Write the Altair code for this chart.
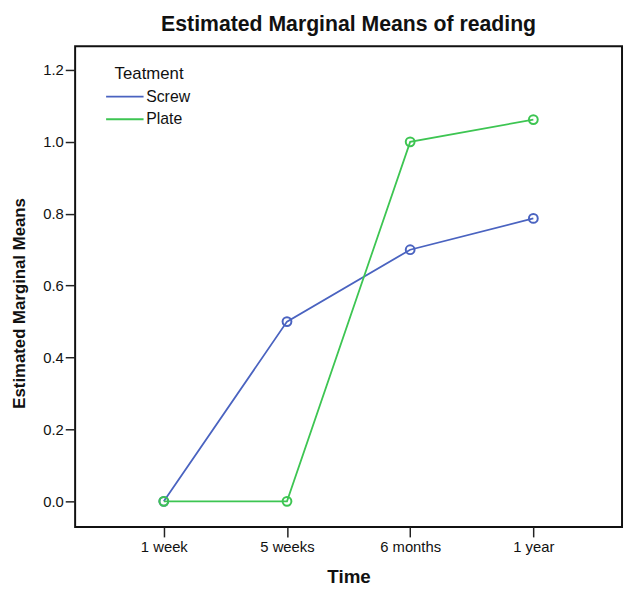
import altair as alt
import pandas as pd

times = ["1 week", "5 weeks", "6 months", "1 year"]
screw = [0.0, 0.5, 0.7, 0.787]
plate = [0.0, 0.0, 1.0, 1.062]
groups = ["Screw", "Plate"]
colors = ["#4a63c0", "#3dc552"]

rows = []
for g, vals in zip(groups, [screw, plate]):
    for i, (t, v) in enumerate(zip(times, vals)):
        rows.append({"Time": t, "mean": v, "Teatment": g, "order": i})
df = pd.DataFrame(rows)

FONT = "Liberation Sans"

x = alt.X("Time:N", sort=times,
          scale=alt.Scale(type="point", padding=0.72),
          axis=alt.Axis(title="Time", labelAngle=0, tickSize=10, tickWidth=1.5,
                        tickColor="#222", labelFontSize=15, labelColor="#111",
                        labelPadding=3, titleFontSize=19, titleFontWeight="bold",
                        titleColor="#111",
                        titleY=50, titleBaseline="middle", domain=False))
y = alt.Y("mean:Q",
          scale=alt.Scale(domain=[-0.0714, 1.2659], nice=False, zero=False),
          axis=alt.Axis(title="Estimated Marginal Means", values=[0, 0.2, 0.4, 0.6, 0.8, 1.0, 1.2],
                        format=".1f", tickSize=10, tickWidth=1.5, tickColor="#222",
                        labelFontSize=15, labelColor="#111", labelPadding=2,
                        titleFontSize=17, titleFontWeight="bold", titleColor="#111",
                        titleX=-56, titleY=260,
                        titleAngle=270, titleAlign="center", titleBaseline="middle",
                        grid=False, domain=False))
color = alt.Color("Teatment:N", sort=groups,
                  scale=alt.Scale(domain=groups, range=colors),
                  legend=alt.Legend(title="Teatment", orient="none", legendX=40, legendY=20,
                                    symbolType="M-5,0H1", symbolSize=160, symbolStrokeWidth=2,
                                    symbolOffset=15,
                                    titleFontSize=17, titleFontWeight="normal", titleColor="#111",
                                    labelFontSize=16, labelColor="#111", labelOffset=1,
                                    rowPadding=7, titlePadding=6))

base = alt.Chart(df).encode(x=x, y=y, color=color, order="order:Q",
                            detail="Teatment:N")
lines = base.mark_line(strokeWidth=1.8)
points = base.mark_point(shape="circle", filled=False, size=80, strokeWidth=2, opacity=1)

chart = alt.layer(lines, points).properties(
    width=554, height=487,
    title=alt.TitleParams("Estimated Marginal Means of reading", fontSize=21.5,
                          fontWeight="bold", font=FONT, offset=11, color="#111"),
    autosize=alt.AutoSizeParams(type="none"),
    padding={"left": 68, "top": 35, "right": 2, "bottom": 58},
).configure(font=FONT).configure_view(stroke="#111", strokeWidth=2)

chart.save("out.html", embed_options={"renderer": "svg", "actions": False})
